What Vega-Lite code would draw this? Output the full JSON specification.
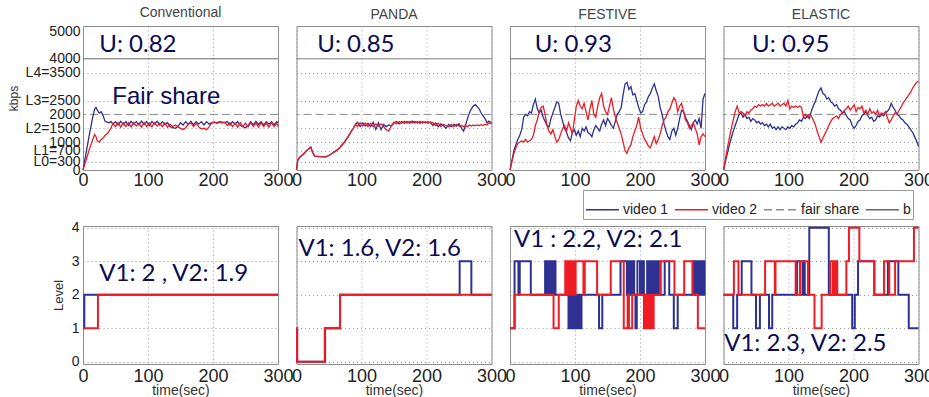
{
"$schema": "https://vega.github.io/schema/vega-lite/v6.json",
"padding": {"left": 6, "top": 5, "right": 0, "bottom": 0},
"background": "white",
"spacing": 30,
"bounds": "full",
"config": {
  "font": "Liberation Sans",
  "view": {"stroke": "#8c8c8c", "strokeWidth": 1},
  "axis": {"domain": false, "ticks": false, "grid": true, "gridColor": "#9a9a9a", "gridDash": [1, 3], "gridWidth": 1, "labelColor": "#222222", "titleColor": "#333333", "titleFontWeight": "normal", "labelFont": "Liberation Sans", "titleFont": "Liberation Sans", "labelFlush": false, "labelOverlap": false, "labelBound": false},
  "title": {"fontSize": 14, "font": "Liberation Sans", "fontWeight": "normal", "color": "#444444", "offset": 4},
  "legend": {"orient": "none", "legendX": 500, "legendY": 164, "direction": "horizontal", "symbolType": "stroke", "symbolSize": 1089, "symbolStrokeWidth": 1.5, "labelFontSize": 14, "labelColor": "#222222", "labelFont": "Liberation Sans", "strokeColor": "#999999", "fillColor": "#ffffff", "padding": 2, "columnPadding": 3, "labelOffset": 3}
},
"datasets": {
  "refs": [{"series": "fair share", "kbps": 2000}, {"series": "b", "kbps": 4000}],
  "kbps": [
{"p":"C","t":0,"video 1":0,"video 2":0},{"p":"C","t":5,"video 1":650,"video 2":380},{"p":"C","t":10,"video 1":1300,"video 2":760},{"p":"C","t":15,"video 1":1900,"video 2":1100},{"p":"C","t":18,"video 1":2200,"video 2":1280},{"p":"C","t":20,"video 1":2250,"video 2":1200},{"p":"C","t":22,"video 1":2150,"video 2":1050},{"p":"C","t":25,"video 1":2050,"video 2":1000},{"p":"C","t":28,"video 1":2100,"video 2":1100},{"p":"C","t":31,"video 1":1950,"video 2":1150},{"p":"C","t":34,"video 1":1750,"video 2":1250},{"p":"C","t":37,"video 1":1720,"video 2":1300},{"p":"C","t":40,"video 1":1700,"video 2":1400},{"p":"C","t":43,"video 1":1750,"video 2":1500},{"p":"C","t":46,"video 1":1650,"video 2":1680},
{"p":"C","t":50,"video 1":1740,"video 2":1560},{"p":"C","t":54,"video 1":1620,"video 2":1700},{"p":"C","t":58,"video 1":1750,"video 2":1540},{"p":"C","t":62,"video 1":1640,"video 2":1690},{"p":"C","t":66,"video 1":1740,"video 2":1560},{"p":"C","t":70,"video 1":1600,"video 2":1710},{"p":"C","t":74,"video 1":1750,"video 2":1550},{"p":"C","t":78,"video 1":1650,"video 2":1700},{"p":"C","t":82,"video 1":1740,"video 2":1580},{"p":"C","t":86,"video 1":1620,"video 2":1690},{"p":"C","t":90,"video 1":1760,"video 2":1540},{"p":"C","t":94,"video 1":1640,"video 2":1700},{"p":"C","t":98,"video 1":1740,"video 2":1560},{"p":"C","t":102,"video 1":1600,"video 2":1690},{"p":"C","t":106,"video 1":1740,"video 2":1550},{"p":"C","t":110,"video 1":1650,"video 2":1700},{"p":"C","t":114,"video 1":1750,"video 2":1580},{"p":"C","t":118,"video 1":1620,"video 2":1680},{"p":"C","t":122,"video 1":1740,"video 2":1560},{"p":"C","t":126,"video 1":1640,"video 2":1690},{"p":"C","t":130,"video 1":1700,"video 2":1540},{"p":"C","t":134,"video 1":1560,"video 2":1650},{"p":"C","t":138,"video 1":1520,"video 2":1560},{"p":"C","t":142,"video 1":1500,"video 2":1620},{"p":"C","t":146,"video 1":1560,"video 2":1560},{"p":"C","t":150,"video 1":1700,"video 2":1500},{"p":"C","t":154,"video 1":1620,"video 2":1460},{"p":"C","t":158,"video 1":1740,"video 2":1520},{"p":"C","t":162,"video 1":1640,"video 2":1650},{"p":"C","t":166,"video 1":1750,"video 2":1700},{"p":"C","t":170,"video 1":1620,"video 2":1560},{"p":"C","t":174,"video 1":1740,"video 2":1690},{"p":"C","t":178,"video 1":1650,"video 2":1550},{"p":"C","t":182,"video 1":1740,"video 2":1480},{"p":"C","t":186,"video 1":1620,"video 2":1500},{"p":"C","t":190,"video 1":1740,"video 2":1450},{"p":"C","t":194,"video 1":1650,"video 2":1550},{"p":"C","t":198,"video 1":1700,"video 2":1700},{"p":"C","t":202,"video 1":1720,"video 2":1720},{"p":"C","t":206,"video 1":1700,"video 2":1680},{"p":"C","t":210,"video 1":1740,"video 2":1720},{"p":"C","t":214,"video 1":1720,"video 2":1690},{"p":"C","t":218,"video 1":1700,"video 2":1720},{"p":"C","t":222,"video 1":1740,"video 2":1600},{"p":"C","t":226,"video 1":1620,"video 2":1700},{"p":"C","t":230,"video 1":1740,"video 2":1560},{"p":"C","t":234,"video 1":1650,"video 2":1690},{"p":"C","t":238,"video 1":1740,"video 2":1540},{"p":"C","t":242,"video 1":1600,"video 2":1700},{"p":"C","t":246,"video 1":1560,"video 2":1560},{"p":"C","t":250,"video 1":1520,"video 2":1690},{"p":"C","t":254,"video 1":1600,"video 2":1550},{"p":"C","t":258,"video 1":1740,"video 2":1700},{"p":"C","t":262,"video 1":1620,"video 2":1560},{"p":"C","t":266,"video 1":1750,"video 2":1690},{"p":"C","t":270,"video 1":1640,"video 2":1540},{"p":"C","t":274,"video 1":1740,"video 2":1700},{"p":"C","t":278,"video 1":1620,"video 2":1560},{"p":"C","t":282,"video 1":1740,"video 2":1690},{"p":"C","t":286,"video 1":1650,"video 2":1540},{"p":"C","t":290,"video 1":1740,"video 2":1700},{"p":"C","t":294,"video 1":1620,"video 2":1560},{"p":"C","t":298,"video 1":1740,"video 2":1690},{"p":"C","t":300,"video 1":1700,"video 2":1560},
{"p":"P","t":0,"video 1":0,"video 2":0},{"p":"P","t":2,"video 1":350,"video 2":350},{"p":"P","t":5,"video 1":460,"video 2":460},{"p":"P","t":10,"video 1":560,"video 2":560},{"p":"P","t":15,"video 1":680,"video 2":680},{"p":"P","t":20,"video 1":780,"video 2":780},{"p":"P","t":22,"video 1":820,"video 2":820},{"p":"P","t":25,"video 1":620,"video 2":620},{"p":"P","t":28,"video 1":500,"video 2":500},{"p":"P","t":35,"video 1":480,"video 2":480},{"p":"P","t":45,"video 1":470,"video 2":470},{"p":"P","t":50,"video 1":520,"video 2":520},{"p":"P","t":55,"video 1":600,"video 2":600},{"p":"P","t":60,"video 1":680,"video 2":680},{"p":"P","t":65,"video 1":760,"video 2":760},{"p":"P","t":70,"video 1":900,"video 2":900},{"p":"P","t":73,"video 1":980,"video 2":980},{"p":"P","t":76,"video 1":1080,"video 2":1080},{"p":"P","t":80,"video 1":1220,"video 2":1220},{"p":"P","t":84,"video 1":1380,"video 2":1380},{"p":"P","t":88,"video 1":1520,"video 2":1520},{"p":"P","t":91,"video 1":1650,"video 2":1650},{"p":"P","t":94,"video 1":1720,"video 2":1560},
{"p":"P","t":98,"video 1":1560,"video 2":1700},{"p":"P","t":102,"video 1":1700,"video 2":1580},{"p":"P","t":106,"video 1":1580,"video 2":1690},{"p":"P","t":110,"video 1":1680,"video 2":1560},{"p":"P","t":114,"video 1":1560,"video 2":1680},{"p":"P","t":118,"video 1":1720,"video 2":1560},{"p":"P","t":122,"video 1":1460,"video 2":1660},{"p":"P","t":126,"video 1":1700,"video 2":1580},{"p":"P","t":130,"video 1":1450,"video 2":1660},{"p":"P","t":134,"video 1":1640,"video 2":1560},{"p":"P","t":138,"video 1":1560,"video 2":1450},{"p":"P","t":142,"video 1":1620,"video 2":1400},{"p":"P","t":146,"video 1":1580,"video 2":1600},{"p":"P","t":150,"video 1":1700,"video 2":1720},{"p":"P","t":154,"video 1":1740,"video 2":1660},{"p":"P","t":158,"video 1":1660,"video 2":1740},{"p":"P","t":162,"video 1":1740,"video 2":1680},{"p":"P","t":166,"video 1":1680,"video 2":1750},{"p":"P","t":170,"video 1":1740,"video 2":1680},{"p":"P","t":174,"video 1":1680,"video 2":1750},{"p":"P","t":178,"video 1":1760,"video 2":1690},{"p":"P","t":182,"video 1":1690,"video 2":1750},{"p":"P","t":186,"video 1":1740,"video 2":1680},{"p":"P","t":190,"video 1":1680,"video 2":1750},{"p":"P","t":194,"video 1":1740,"video 2":1690},{"p":"P","t":198,"video 1":1700,"video 2":1740},{"p":"P","t":202,"video 1":1740,"video 2":1680},{"p":"P","t":206,"video 1":1700,"video 2":1730},{"p":"P","t":210,"video 1":1600,"video 2":1700},{"p":"P","t":214,"video 1":1690,"video 2":1600},{"p":"P","t":218,"video 1":1560,"video 2":1680},{"p":"P","t":222,"video 1":1660,"video 2":1560},{"p":"P","t":226,"video 1":1600,"video 2":1640},{"p":"P","t":230,"video 1":1500,"video 2":1600},{"p":"P","t":234,"video 1":1640,"video 2":1560},{"p":"P","t":238,"video 1":1560,"video 2":1640},{"p":"P","t":242,"video 1":1640,"video 2":1560},{"p":"P","t":246,"video 1":1580,"video 2":1640},{"p":"P","t":250,"video 1":1660,"video 2":1580},{"p":"P","t":254,"video 1":1500,"video 2":1600},{"p":"P","t":257,"video 1":1400,"video 2":1560},{"p":"P","t":260,"video 1":1600,"video 2":1600},{"p":"P","t":263,"video 1":1850,"video 2":1560},{"p":"P","t":266,"video 1":2050,"video 2":1620},{"p":"P","t":269,"video 1":2200,"video 2":1580},{"p":"P","t":272,"video 1":2300,"video 2":1620},{"p":"P","t":275,"video 1":2350,"video 2":1590},{"p":"P","t":278,"video 1":2280,"video 2":1620},{"p":"P","t":281,"video 1":2200,"video 2":1600},{"p":"P","t":284,"video 1":2050,"video 2":1630},{"p":"P","t":287,"video 1":1950,"video 2":1600},{"p":"P","t":290,"video 1":1850,"video 2":1650},{"p":"P","t":293,"video 1":1700,"video 2":1620},{"p":"P","t":296,"video 1":1760,"video 2":1700},{"p":"P","t":300,"video 1":1700,"video 2":1650},
{"p":"F","t":0,"video 1":0,"video 2":0},{"p":"F","t":3,"video 1":350,"video 2":300},{"p":"F","t":6,"video 1":700,"video 2":600},{"p":"F","t":9,"video 1":900,"video 2":800},{"p":"F","t":12,"video 1":1100,"video 2":950},{"p":"F","t":15,"video 1":1250,"video 2":1000},{"p":"F","t":18,"video 1":1450,"video 2":1050},{"p":"F","t":21,"video 1":1900,"video 2":1000},{"p":"F","t":24,"video 1":2000,"video 2":1100},{"p":"F","t":27,"video 1":1950,"video 2":1000},{"p":"F","t":30,"video 1":2100,"video 2":1050},{"p":"F","t":33,"video 1":2050,"video 2":1100},{"p":"F","t":36,"video 1":2350,"video 2":1250},{"p":"F","t":39,"video 1":2550,"video 2":1600},{"p":"F","t":42,"video 1":2200,"video 2":1800},{"p":"F","t":45,"video 1":2050,"video 2":2100},{"p":"F","t":48,"video 1":2150,"video 2":2250},{"p":"F","t":51,"video 1":1900,"video 2":2300},{"p":"F","t":54,"video 1":1750,"video 2":2000},{"p":"F","t":57,"video 1":1600,"video 2":1600},{"p":"F","t":60,"video 1":1550,"video 2":1400},{"p":"F","t":63,"video 1":1850,"video 2":1300},{"p":"F","t":66,"video 1":2050,"video 2":1450},{"p":"F","t":69,"video 1":2250,"video 2":1200},{"p":"F","t":72,"video 1":2450,"video 2":1000},{"p":"F","t":75,"video 1":2400,"video 2":1100},{"p":"F","t":78,"video 1":2000,"video 2":1300},{"p":"F","t":81,"video 1":1750,"video 2":1500},{"p":"F","t":84,"video 1":1500,"video 2":1600},{"p":"F","t":87,"video 1":1350,"video 2":1400},{"p":"F","t":90,"video 1":1150,"video 2":1700},{"p":"F","t":93,"video 1":1050,"video 2":1500},{"p":"F","t":96,"video 1":1350,"video 2":1300},{"p":"F","t":99,"video 1":1450,"video 2":1800},{"p":"F","t":102,"video 1":1250,"video 2":2300},{"p":"F","t":105,"video 1":1400,"video 2":2500},{"p":"F","t":108,"video 1":1200,"video 2":2300},{"p":"F","t":111,"video 1":1500,"video 2":2200},{"p":"F","t":114,"video 1":1400,"video 2":2400},{"p":"F","t":117,"video 1":1550,"video 2":2100},{"p":"F","t":120,"video 1":1350,"video 2":1800},{"p":"F","t":123,"video 1":1300,"video 2":2200},{"p":"F","t":126,"video 1":1200,"video 2":2500},{"p":"F","t":129,"video 1":1450,"video 2":2000},{"p":"F","t":132,"video 1":1600,"video 2":1900},{"p":"F","t":135,"video 1":1500,"video 2":2300},{"p":"F","t":138,"video 1":1400,"video 2":2600},{"p":"F","t":141,"video 1":1650,"video 2":2750},{"p":"F","t":144,"video 1":1800,"video 2":2300},{"p":"F","t":147,"video 1":1600,"video 2":2100},{"p":"F","t":150,"video 1":1850,"video 2":2000},{"p":"F","t":153,"video 1":1750,"video 2":2300},{"p":"F","t":156,"video 1":1600,"video 2":2600},{"p":"F","t":159,"video 1":1500,"video 2":2200},{"p":"F","t":162,"video 1":1750,"video 2":1900},{"p":"F","t":165,"video 1":2000,"video 2":1700},{"p":"F","t":168,"video 1":2100,"video 2":1500},{"p":"F","t":171,"video 1":2250,"video 2":1300},{"p":"F","t":174,"video 1":2700,"video 2":1000},{"p":"F","t":177,"video 1":3100,"video 2":700},{"p":"F","t":180,"video 1":3150,"video 2":600},{"p":"F","t":183,"video 1":2900,"video 2":800},{"p":"F","t":186,"video 1":3000,"video 2":900},{"p":"F","t":189,"video 1":2700,"video 2":1200},{"p":"F","t":192,"video 1":2750,"video 2":1400},{"p":"F","t":195,"video 1":2500,"video 2":1600},{"p":"F","t":198,"video 1":2250,"video 2":1900},{"p":"F","t":201,"video 1":2050,"video 2":1500},{"p":"F","t":204,"video 1":2100,"video 2":1300},{"p":"F","t":207,"video 1":2350,"video 2":1100},{"p":"F","t":210,"video 1":2450,"video 2":1000},{"p":"F","t":213,"video 1":2650,"video 2":850},{"p":"F","t":216,"video 1":2750,"video 2":800},{"p":"F","t":219,"video 1":2950,"video 2":1000},{"p":"F","t":222,"video 1":3100,"video 2":1200},{"p":"F","t":225,"video 1":2850,"video 2":950},{"p":"F","t":228,"video 1":2650,"video 2":1100},{"p":"F","t":231,"video 1":2250,"video 2":1300},{"p":"F","t":234,"video 1":2000,"video 2":1600},{"p":"F","t":237,"video 1":1650,"video 2":1800},{"p":"F","t":240,"video 1":1400,"video 2":1900},{"p":"F","t":243,"video 1":1200,"video 2":2100},{"p":"F","t":246,"video 1":1100,"video 2":2200},{"p":"F","t":249,"video 1":1400,"video 2":2400},{"p":"F","t":252,"video 1":1500,"video 2":2600},{"p":"F","t":255,"video 1":1250,"video 2":2500},{"p":"F","t":258,"video 1":1500,"video 2":2100},{"p":"F","t":261,"video 1":1850,"video 2":2300},{"p":"F","t":264,"video 1":2150,"video 2":2400},{"p":"F","t":267,"video 1":2100,"video 2":2100},{"p":"F","t":270,"video 1":1900,"video 2":1800},{"p":"F","t":273,"video 1":1750,"video 2":1700},{"p":"F","t":276,"video 1":1600,"video 2":1500},{"p":"F","t":279,"video 1":1450,"video 2":1600},{"p":"F","t":282,"video 1":1700,"video 2":1700},{"p":"F","t":285,"video 1":1800,"video 2":1500},{"p":"F","t":288,"video 1":1650,"video 2":1300},{"p":"F","t":291,"video 1":1850,"video 2":900},{"p":"F","t":294,"video 1":1500,"video 2":1200},{"p":"F","t":297,"video 1":2550,"video 2":1300},{"p":"F","t":300,"video 1":2750,"video 2":1200},
{"p":"E","t":0,"video 1":0,"video 2":0},{"p":"E","t":3,"video 1":300,"video 2":400},{"p":"E","t":6,"video 1":600,"video 2":800},{"p":"E","t":9,"video 1":900,"video 2":1150},{"p":"E","t":12,"video 1":1150,"video 2":1500},{"p":"E","t":15,"video 1":1400,"video 2":1800},{"p":"E","t":18,"video 1":1600,"video 2":2100},{"p":"E","t":21,"video 1":1800,"video 2":2300},{"p":"E","t":24,"video 1":2000,"video 2":2050},{"p":"E","t":27,"video 1":2050,"video 2":2100},{"p":"E","t":30,"video 1":1900,"video 2":2050},{"p":"E","t":33,"video 1":2000,"video 2":1950},{"p":"E","t":36,"video 1":1850,"video 2":2100},{"p":"E","t":39,"video 1":1900,"video 2":2050},{"p":"E","t":42,"video 1":1750,"video 2":2150},{"p":"E","t":45,"video 1":1850,"video 2":2200},{"p":"E","t":48,"video 1":1800,"video 2":2300},{"p":"E","t":51,"video 1":1700,"video 2":2250},{"p":"E","t":54,"video 1":1750,"video 2":2350},{"p":"E","t":57,"video 1":1650,"video 2":2300},{"p":"E","t":60,"video 1":1700,"video 2":2350},{"p":"E","t":63,"video 1":1600,"video 2":2300},{"p":"E","t":66,"video 1":1650,"video 2":2400},{"p":"E","t":69,"video 1":1550,"video 2":2300},{"p":"E","t":72,"video 1":1650,"video 2":2350},{"p":"E","t":75,"video 1":1500,"video 2":2400},{"p":"E","t":78,"video 1":1550,"video 2":2300},{"p":"E","t":81,"video 1":1450,"video 2":2350},{"p":"E","t":84,"video 1":1550,"video 2":2400},{"p":"E","t":87,"video 1":1450,"video 2":2300},{"p":"E","t":90,"video 1":1550,"video 2":2350},{"p":"E","t":93,"video 1":1500,"video 2":2400},{"p":"E","t":96,"video 1":1450,"video 2":2300},{"p":"E","t":99,"video 1":1550,"video 2":2500},{"p":"E","t":102,"video 1":1500,"video 2":2200},{"p":"E","t":105,"video 1":1600,"video 2":2300},{"p":"E","t":108,"video 1":1550,"video 2":2250},{"p":"E","t":111,"video 1":1650,"video 2":2300},{"p":"E","t":114,"video 1":1700,"video 2":2250},{"p":"E","t":117,"video 1":1800,"video 2":2300},{"p":"E","t":120,"video 1":1750,"video 2":2250},{"p":"E","t":123,"video 1":1900,"video 2":1900},{"p":"E","t":126,"video 1":1850,"video 2":2000},{"p":"E","t":129,"video 1":1950,"video 2":1900},{"p":"E","t":132,"video 1":1850,"video 2":2000},{"p":"E","t":135,"video 1":2100,"video 2":1950},{"p":"E","t":138,"video 1":2300,"video 2":1800},{"p":"E","t":141,"video 1":2450,"video 2":1650},{"p":"E","t":144,"video 1":2650,"video 2":1400},{"p":"E","t":147,"video 1":2850,"video 2":1200},{"p":"E","t":150,"video 1":2950,"video 2":1000},{"p":"E","t":153,"video 1":2750,"video 2":1150},{"p":"E","t":156,"video 1":2700,"video 2":1300},{"p":"E","t":159,"video 1":2550,"video 2":1450},{"p":"E","t":162,"video 1":2600,"video 2":1600},{"p":"E","t":165,"video 1":2450,"video 2":1750},{"p":"E","t":168,"video 1":2400,"video 2":1850},{"p":"E","t":171,"video 1":2300,"video 2":1900},{"p":"E","t":174,"video 1":2350,"video 2":1950},{"p":"E","t":177,"video 1":2200,"video 2":1850},{"p":"E","t":180,"video 1":2150,"video 2":2000},{"p":"E","t":183,"video 1":2050,"video 2":2050},{"p":"E","t":186,"video 1":2100,"video 2":2150},{"p":"E","t":189,"video 1":1950,"video 2":2200},{"p":"E","t":192,"video 1":1850,"video 2":2300},{"p":"E","t":195,"video 1":1800,"video 2":2150},{"p":"E","t":198,"video 1":1600,"video 2":2250},{"p":"E","t":201,"video 1":1500,"video 2":2350},{"p":"E","t":204,"video 1":1600,"video 2":2100},{"p":"E","t":207,"video 1":1750,"video 2":2250},{"p":"E","t":210,"video 1":1800,"video 2":2200},{"p":"E","t":213,"video 1":1950,"video 2":2300},{"p":"E","t":216,"video 1":2000,"video 2":2050},{"p":"E","t":219,"video 1":2100,"video 2":2150},{"p":"E","t":222,"video 1":1950,"video 2":2000},{"p":"E","t":225,"video 1":1850,"video 2":2200},{"p":"E","t":228,"video 1":1900,"video 2":2050},{"p":"E","t":231,"video 1":1750,"video 2":2100},{"p":"E","t":234,"video 1":1800,"video 2":2000},{"p":"E","t":237,"video 1":1950,"video 2":2150},{"p":"E","t":240,"video 1":1900,"video 2":1950},{"p":"E","t":243,"video 1":2000,"video 2":2050},{"p":"E","t":246,"video 1":1950,"video 2":2000},{"p":"E","t":249,"video 1":2050,"video 2":2100},{"p":"E","t":252,"video 1":2100,"video 2":1900},{"p":"E","t":255,"video 1":2200,"video 2":1700},{"p":"E","t":258,"video 1":2400,"video 2":1800},{"p":"E","t":261,"video 1":2250,"video 2":1950},{"p":"E","t":264,"video 1":2150,"video 2":2050},{"p":"E","t":267,"video 1":2000,"video 2":2000},{"p":"E","t":270,"video 1":1950,"video 2":2150},{"p":"E","t":273,"video 1":1850,"video 2":2250},{"p":"E","t":276,"video 1":1800,"video 2":2400},{"p":"E","t":279,"video 1":1700,"video 2":2500},{"p":"E","t":282,"video 1":1650,"video 2":2600},{"p":"E","t":285,"video 1":1550,"video 2":2700},{"p":"E","t":288,"video 1":1450,"video 2":2800},{"p":"E","t":291,"video 1":1350,"video 2":2950},{"p":"E","t":294,"video 1":1200,"video 2":3050},{"p":"E","t":297,"video 1":1050,"video 2":3150},{"p":"E","t":300,"video 1":850,"video 2":3200}
  ],
  "lv": [
{"p":"C","series":"video 1","t":0,"l":1},{"p":"C","series":"video 1","t":2,"l":2},{"p":"C","series":"video 1","t":300,"l":2},
{"p":"C","series":"video 2","t":0,"l":1},{"p":"C","series":"video 2","t":23,"l":2},{"p":"C","series":"video 2","t":300,"l":2},
{"p":"P","series":"video 1","t":0,"l":1},{"p":"P","series":"video 1","t":1,"l":0},{"p":"P","series":"video 1","t":44,"l":1},{"p":"P","series":"video 1","t":67,"l":2},{"p":"P","series":"video 1","t":251,"l":3},{"p":"P","series":"video 1","t":269,"l":2},{"p":"P","series":"video 1","t":300,"l":2},
{"p":"P","series":"video 2","t":0,"l":1},{"p":"P","series":"video 2","t":1,"l":0},{"p":"P","series":"video 2","t":43.5,"l":1},{"p":"P","series":"video 2","t":67,"l":2},{"p":"P","series":"video 2","t":300,"l":2},
{"p":"F","series":"video 1","t":0,"l":1},{"p":"F","series":"video 1","t":7,"l":3},{"p":"F","series":"video 1","t":13,"l":2},{"p":"F","series":"video 1","t":15,"l":3},{"p":"F","series":"video 1","t":32,"l":2},{"p":"F","series":"video 1","t":54,"l":3},{"p":"F","series":"video 1","t":55,"l":2},{"p":"F","series":"video 1","t":56,"l":3},{"p":"F","series":"video 1","t":57,"l":2},{"p":"F","series":"video 1","t":58,"l":3},{"p":"F","series":"video 1","t":59,"l":2},{"p":"F","series":"video 1","t":60,"l":3},{"p":"F","series":"video 1","t":61,"l":2},{"p":"F","series":"video 1","t":62,"l":3},{"p":"F","series":"video 1","t":63,"l":2},{"p":"F","series":"video 1","t":64,"l":3},{"p":"F","series":"video 1","t":65,"l":2},{"p":"F","series":"video 1","t":66,"l":3},{"p":"F","series":"video 1","t":67,"l":2},{"p":"F","series":"video 1","t":68,"l":3},{"p":"F","series":"video 1","t":70,"l":2},{"p":"F","series":"video 1","t":90,"l":1},{"p":"F","series":"video 1","t":91,"l":2},{"p":"F","series":"video 1","t":92,"l":1},{"p":"F","series":"video 1","t":93,"l":2},{"p":"F","series":"video 1","t":94,"l":1},{"p":"F","series":"video 1","t":95,"l":2},{"p":"F","series":"video 1","t":96,"l":1},{"p":"F","series":"video 1","t":97,"l":2},{"p":"F","series":"video 1","t":98,"l":1},{"p":"F","series":"video 1","t":99,"l":2},{"p":"F","series":"video 1","t":100,"l":1},{"p":"F","series":"video 1","t":101,"l":2},{"p":"F","series":"video 1","t":104,"l":1},{"p":"F","series":"video 1","t":106,"l":2},{"p":"F","series":"video 1","t":109,"l":1},{"p":"F","series":"video 1","t":110,"l":2},{"p":"F","series":"video 1","t":137,"l":1},{"p":"F","series":"video 1","t":142,"l":2},{"p":"F","series":"video 1","t":170,"l":3},{"p":"F","series":"video 1","t":180,"l":2},{"p":"F","series":"video 1","t":181,"l":3},{"p":"F","series":"video 1","t":182,"l":2},{"p":"F","series":"video 1","t":183,"l":3},{"p":"F","series":"video 1","t":184,"l":2},{"p":"F","series":"video 1","t":185,"l":3},{"p":"F","series":"video 1","t":186,"l":2},{"p":"F","series":"video 1","t":187,"l":3},{"p":"F","series":"video 1","t":188,"l":2},{"p":"F","series":"video 1","t":189,"l":3},{"p":"F","series":"video 1","t":191,"l":2},{"p":"F","series":"video 1","t":193,"l":1},{"p":"F","series":"video 1","t":195,"l":2},{"p":"F","series":"video 1","t":196,"l":3},{"p":"F","series":"video 1","t":200,"l":2},{"p":"F","series":"video 1","t":203,"l":3},{"p":"F","series":"video 1","t":206,"l":2},{"p":"F","series":"video 1","t":211,"l":3},{"p":"F","series":"video 1","t":212,"l":2},{"p":"F","series":"video 1","t":213,"l":3},{"p":"F","series":"video 1","t":214,"l":2},{"p":"F","series":"video 1","t":215,"l":3},{"p":"F","series":"video 1","t":216,"l":2},{"p":"F","series":"video 1","t":217,"l":3},{"p":"F","series":"video 1","t":218,"l":2},{"p":"F","series":"video 1","t":219,"l":3},{"p":"F","series":"video 1","t":221,"l":2},{"p":"F","series":"video 1","t":223,"l":3},{"p":"F","series":"video 1","t":225,"l":2},{"p":"F","series":"video 1","t":227,"l":3},{"p":"F","series":"video 1","t":229,"l":2},{"p":"F","series":"video 1","t":238,"l":3},{"p":"F","series":"video 1","t":245,"l":2},{"p":"F","series":"video 1","t":252,"l":1},{"p":"F","series":"video 1","t":258,"l":2},{"p":"F","series":"video 1","t":281,"l":3},{"p":"F","series":"video 1","t":282,"l":2},{"p":"F","series":"video 1","t":283,"l":3},{"p":"F","series":"video 1","t":284,"l":2},{"p":"F","series":"video 1","t":285,"l":3},{"p":"F","series":"video 1","t":286,"l":2},{"p":"F","series":"video 1","t":287,"l":3},{"p":"F","series":"video 1","t":288,"l":2},{"p":"F","series":"video 1","t":289,"l":3},{"p":"F","series":"video 1","t":290,"l":2},{"p":"F","series":"video 1","t":291,"l":3},{"p":"F","series":"video 1","t":292,"l":2},{"p":"F","series":"video 1","t":293,"l":3},{"p":"F","series":"video 1","t":294,"l":2},{"p":"F","series":"video 1","t":295,"l":3},{"p":"F","series":"video 1","t":296,"l":2},{"p":"F","series":"video 1","t":297,"l":3},{"p":"F","series":"video 1","t":298,"l":2},{"p":"F","series":"video 1","t":299,"l":3},{"p":"F","series":"video 1","t":300,"l":3},
{"p":"F","series":"video 2","t":0,"l":1},{"p":"F","series":"video 2","t":7,"l":2},{"p":"F","series":"video 2","t":67,"l":1},{"p":"F","series":"video 2","t":75,"l":2},{"p":"F","series":"video 2","t":85,"l":3},{"p":"F","series":"video 2","t":86,"l":2},{"p":"F","series":"video 2","t":87,"l":3},{"p":"F","series":"video 2","t":88,"l":2},{"p":"F","series":"video 2","t":89,"l":3},{"p":"F","series":"video 2","t":90,"l":2},{"p":"F","series":"video 2","t":91,"l":3},{"p":"F","series":"video 2","t":92,"l":2},{"p":"F","series":"video 2","t":93,"l":3},{"p":"F","series":"video 2","t":94,"l":2},{"p":"F","series":"video 2","t":95,"l":3},{"p":"F","series":"video 2","t":96,"l":2},{"p":"F","series":"video 2","t":97,"l":3},{"p":"F","series":"video 2","t":98,"l":2},{"p":"F","series":"video 2","t":99,"l":3},{"p":"F","series":"video 2","t":100,"l":2},{"p":"F","series":"video 2","t":101,"l":3},{"p":"F","series":"video 2","t":113,"l":2},{"p":"F","series":"video 2","t":115,"l":3},{"p":"F","series":"video 2","t":134,"l":2},{"p":"F","series":"video 2","t":155,"l":3},{"p":"F","series":"video 2","t":175,"l":1},{"p":"F","series":"video 2","t":181,"l":2},{"p":"F","series":"video 2","t":183,"l":1},{"p":"F","series":"video 2","t":188,"l":2},{"p":"F","series":"video 2","t":206,"l":1},{"p":"F","series":"video 2","t":207,"l":2},{"p":"F","series":"video 2","t":208,"l":1},{"p":"F","series":"video 2","t":209,"l":2},{"p":"F","series":"video 2","t":210,"l":1},{"p":"F","series":"video 2","t":211,"l":2},{"p":"F","series":"video 2","t":212,"l":1},{"p":"F","series":"video 2","t":213,"l":2},{"p":"F","series":"video 2","t":214,"l":1},{"p":"F","series":"video 2","t":215,"l":2},{"p":"F","series":"video 2","t":216,"l":1},{"p":"F","series":"video 2","t":217,"l":2},{"p":"F","series":"video 2","t":218,"l":1},{"p":"F","series":"video 2","t":219,"l":2},{"p":"F","series":"video 2","t":220,"l":1},{"p":"F","series":"video 2","t":221,"l":2},{"p":"F","series":"video 2","t":232,"l":3},{"p":"F","series":"video 2","t":253,"l":2},{"p":"F","series":"video 2","t":268,"l":3},{"p":"F","series":"video 2","t":281,"l":2},{"p":"F","series":"video 2","t":289,"l":1},{"p":"F","series":"video 2","t":300,"l":1},
{"p":"E","series":"video 1","t":0,"l":2},{"p":"E","series":"video 1","t":15,"l":1},{"p":"E","series":"video 1","t":21,"l":2},{"p":"E","series":"video 1","t":28,"l":3},{"p":"E","series":"video 1","t":43,"l":2},{"p":"E","series":"video 1","t":50,"l":1},{"p":"E","series":"video 1","t":56,"l":2},{"p":"E","series":"video 1","t":70,"l":1},{"p":"E","series":"video 1","t":75,"l":2},{"p":"E","series":"video 1","t":113,"l":3},{"p":"E","series":"video 1","t":118,"l":2},{"p":"E","series":"video 1","t":122,"l":3},{"p":"E","series":"video 1","t":125,"l":2},{"p":"E","series":"video 1","t":132,"l":4},{"p":"E","series":"video 1","t":162,"l":2},{"p":"E","series":"video 1","t":198,"l":1},{"p":"E","series":"video 1","t":202,"l":2},{"p":"E","series":"video 1","t":207,"l":3},{"p":"E","series":"video 1","t":232,"l":2},{"p":"E","series":"video 1","t":253,"l":3},{"p":"E","series":"video 1","t":269,"l":2},{"p":"E","series":"video 1","t":285,"l":1},{"p":"E","series":"video 1","t":300,"l":1},
{"p":"E","series":"video 2","t":0,"l":2},{"p":"E","series":"video 2","t":16,"l":3},{"p":"E","series":"video 2","t":23,"l":2},{"p":"E","series":"video 2","t":64,"l":3},{"p":"E","series":"video 2","t":79,"l":2},{"p":"E","series":"video 2","t":80,"l":3},{"p":"E","series":"video 2","t":111,"l":2},{"p":"E","series":"video 2","t":118,"l":3},{"p":"E","series":"video 2","t":130,"l":2},{"p":"E","series":"video 2","t":140,"l":1},{"p":"E","series":"video 2","t":151,"l":2},{"p":"E","series":"video 2","t":164,"l":3},{"p":"E","series":"video 2","t":168,"l":2},{"p":"E","series":"video 2","t":169,"l":3},{"p":"E","series":"video 2","t":171,"l":2},{"p":"E","series":"video 2","t":172,"l":3},{"p":"E","series":"video 2","t":175,"l":2},{"p":"E","series":"video 2","t":189,"l":3},{"p":"E","series":"video 2","t":193,"l":4},{"p":"E","series":"video 2","t":209,"l":3},{"p":"E","series":"video 2","t":232,"l":2},{"p":"E","series":"video 2","t":247,"l":3},{"p":"E","series":"video 2","t":255,"l":2},{"p":"E","series":"video 2","t":264,"l":3},{"p":"E","series":"video 2","t":293,"l":4},{"p":"E","series":"video 2","t":300,"l":4}
  ]
},
"vconcat": [
 {"hconcat": [
  {"title": "Conventional", "width": 195, "height": 144, "layer": [
   {"data": {"name": "refs"}, "mark": {"type": "rule", "strokeWidth": 1}, "encoding": {
     "y": {"field": "kbps", "type": "quantitative", "scale": {"domain": [0, 5180], "nice": false}, "axis": {"values": [0, 300, 700, 1000, 1500, 2000, 2500, 3500, 4000, 5000], "tickCount": 20, "format": "d", "labelExpr": "datum.value==300?'L0=300':datum.value==700?'L1=700':datum.value==1500?'L2=1500':datum.value==2500?'L3=2500':datum.value==3500?'L4=3500':datum.label", "labelFontSize": 14, "labelPadding": 3, "title": "kbps", "titleFontSize": 12, "titlePadding": 5, "gridOpacity": {"condition": {"test": "datum.value >= 4000 || datum.value == 2000", "value": 0}, "value": 1}}},
     "color": {"field": "series", "type": "nominal", "scale": {"domain": ["video 1", "video 2", "fair share", "b"], "range": ["#2e3192", "#ee1c25", "#8a8a8a", "#666666"]}, "legend": {"title": null}},
     "strokeDash": {"field": "series", "type": "nominal", "scale": {"domain": ["video 1", "video 2", "fair share", "b"], "range": [[1, 0], [1, 0], [8, 4], [1, 0]]}, "legend": {"title": null}}}},
   {"data": {"name": "kbps"}, "transform": [{"filter": "datum.p === 'C'"}, {"fold": ["video 1", "video 2"], "as": ["series", "kbps"]}], "mark": {"type": "line", "strokeWidth": 1.3}, "encoding": {
     "x": {"field": "t", "type": "quantitative", "scale": {"domain": [0, 300], "nice": false}, "axis": {"values": [0, 100, 200, 300], "labelFontSize": 18, "labelPadding": 1, "title": null}},
     "y": {"field": "kbps", "type": "quantitative"},
     "color": {"field": "series", "type": "nominal", "scale": {"domain": ["video 1", "video 2", "fair share", "b"], "range": ["#2e3192", "#ee1c25", "#8a8a8a", "#666666"]}, "legend": {"title": null}}}},
   {"data": {"values": [{}]}, "mark": {"type": "text", "text": "U: 0.82", "font": "Lato", "fontSize": 24, "color": "#0b0b55", "align": "left", "baseline": "middle"}, "encoding": {"x": {"datum": 25}, "y": {"datum": 4500}}},
   {"data": {"values": [{}]}, "mark": {"type": "text", "text": "Fair share", "font": "Liberation Sans", "fontSize": 24, "color": "#0b0b55", "align": "left", "baseline": "middle"}, "encoding": {"x": {"datum": 45}, "y": {"datum": 2620}}}
  ]},
  {"title": "PANDA", "width": 195, "height": 144, "layer": [
   {"data": {"name": "refs"}, "mark": {"type": "rule", "strokeWidth": 1}, "encoding": {
     "y": {"field": "kbps", "type": "quantitative", "scale": {"domain": [0, 5180], "nice": false}, "axis": {"values": [0, 300, 700, 1000, 1500, 2000, 2500, 3500, 4000, 5000], "tickCount": 20, "labels": false, "title": null, "gridOpacity": {"condition": {"test": "datum.value >= 4000 || datum.value == 2000", "value": 0}, "value": 1}}},
     "color": {"field": "series", "type": "nominal", "scale": {"domain": ["video 1", "video 2", "fair share", "b"], "range": ["#2e3192", "#ee1c25", "#8a8a8a", "#666666"]}, "legend": {"title": null}},
     "strokeDash": {"field": "series", "type": "nominal", "scale": {"domain": ["video 1", "video 2", "fair share", "b"], "range": [[1, 0], [1, 0], [8, 4], [1, 0]]}, "legend": {"title": null}}}},
   {"data": {"name": "kbps"}, "transform": [{"filter": "datum.p === 'P'"}, {"fold": ["video 1", "video 2"], "as": ["series", "kbps"]}], "mark": {"type": "line", "strokeWidth": 1.3}, "encoding": {
     "x": {"field": "t", "type": "quantitative", "scale": {"domain": [0, 300], "nice": false}, "axis": {"values": [0, 100, 200, 300], "labelFontSize": 18, "labelPadding": 1, "title": null}},
     "y": {"field": "kbps", "type": "quantitative"},
     "color": {"field": "series", "type": "nominal", "scale": {"domain": ["video 1", "video 2", "fair share", "b"], "range": ["#2e3192", "#ee1c25", "#8a8a8a", "#666666"]}, "legend": {"title": null}}}},
   {"data": {"values": [{}]}, "mark": {"type": "text", "text": "U: 0.85", "font": "Lato", "fontSize": 24, "color": "#0b0b55", "align": "left", "baseline": "middle"}, "encoding": {"x": {"datum": 32}, "y": {"datum": 4500}}}
  ]},
  {"title": "FESTIVE", "width": 195, "height": 144, "layer": [
   {"data": {"name": "refs"}, "mark": {"type": "rule", "strokeWidth": 1}, "encoding": {
     "y": {"field": "kbps", "type": "quantitative", "scale": {"domain": [0, 5180], "nice": false}, "axis": {"values": [0, 300, 700, 1000, 1500, 2000, 2500, 3500, 4000, 5000], "tickCount": 20, "labels": false, "title": null, "gridOpacity": {"condition": {"test": "datum.value >= 4000 || datum.value == 2000", "value": 0}, "value": 1}}},
     "color": {"field": "series", "type": "nominal", "scale": {"domain": ["video 1", "video 2", "fair share", "b"], "range": ["#2e3192", "#ee1c25", "#8a8a8a", "#666666"]}, "legend": {"title": null}},
     "strokeDash": {"field": "series", "type": "nominal", "scale": {"domain": ["video 1", "video 2", "fair share", "b"], "range": [[1, 0], [1, 0], [8, 4], [1, 0]]}, "legend": {"title": null}}}},
   {"data": {"name": "kbps"}, "transform": [{"filter": "datum.p === 'F'"}, {"fold": ["video 1", "video 2"], "as": ["series", "kbps"]}], "mark": {"type": "line", "strokeWidth": 1.3}, "encoding": {
     "x": {"field": "t", "type": "quantitative", "scale": {"domain": [0, 300], "nice": false}, "axis": {"values": [0, 100, 200, 300], "labelFontSize": 18, "labelPadding": 1, "title": null}},
     "y": {"field": "kbps", "type": "quantitative"},
     "color": {"field": "series", "type": "nominal", "scale": {"domain": ["video 1", "video 2", "fair share", "b"], "range": ["#2e3192", "#ee1c25", "#8a8a8a", "#666666"]}, "legend": {"title": null}}}},
   {"data": {"values": [{}]}, "mark": {"type": "text", "text": "U: 0.93", "font": "Lato", "fontSize": 24, "color": "#0b0b55", "align": "left", "baseline": "middle"}, "encoding": {"x": {"datum": 38}, "y": {"datum": 4500}}}
  ]},
  {"title": "ELASTIC", "width": 195, "height": 144, "layer": [
   {"data": {"name": "refs"}, "mark": {"type": "rule", "strokeWidth": 1}, "encoding": {
     "y": {"field": "kbps", "type": "quantitative", "scale": {"domain": [0, 5180], "nice": false}, "axis": {"values": [0, 300, 700, 1000, 1500, 2000, 2500, 3500, 4000, 5000], "tickCount": 20, "labels": false, "title": null, "gridOpacity": {"condition": {"test": "datum.value >= 4000 || datum.value == 2000", "value": 0}, "value": 1}}},
     "color": {"field": "series", "type": "nominal", "scale": {"domain": ["video 1", "video 2", "fair share", "b"], "range": ["#2e3192", "#ee1c25", "#8a8a8a", "#666666"]}, "legend": {"title": null}},
     "strokeDash": {"field": "series", "type": "nominal", "scale": {"domain": ["video 1", "video 2", "fair share", "b"], "range": [[1, 0], [1, 0], [8, 4], [1, 0]]}, "legend": {"title": null}}}},
   {"data": {"name": "kbps"}, "transform": [{"filter": "datum.p === 'E'"}, {"fold": ["video 1", "video 2"], "as": ["series", "kbps"]}], "mark": {"type": "line", "strokeWidth": 1.3}, "encoding": {
     "x": {"field": "t", "type": "quantitative", "scale": {"domain": [0, 300], "nice": false}, "axis": {"values": [0, 100, 200, 300], "labelFontSize": 18, "labelPadding": 1, "title": null}},
     "y": {"field": "kbps", "type": "quantitative"},
     "color": {"field": "series", "type": "nominal", "scale": {"domain": ["video 1", "video 2", "fair share", "b"], "range": ["#2e3192", "#ee1c25", "#8a8a8a", "#666666"]}, "legend": {"title": null}}}},
   {"data": {"values": [{}]}, "mark": {"type": "text", "text": "U: 0.95", "font": "Lato", "fontSize": 24, "color": "#0b0b55", "align": "left", "baseline": "middle"}, "encoding": {"x": {"datum": 44}, "y": {"datum": 4500}}}
  ]}
 ], "spacing": 18.5, "bounds": "flush"},
 {"hconcat": [
  {"width": 195, "height": 138, "layer": [
   {"data": {"name": "lv"}, "transform": [{"filter": "datum.p === 'C'"}], "mark": {"type": "line", "interpolate": "step-after", "strokeWidth": 2}, "encoding": {
     "x": {"field": "t", "type": "quantitative", "scale": {"domain": [0, 300], "nice": false}, "axis": {"values": [0, 100, 200, 300], "labelFontSize": 18, "labelPadding": 3, "title": "time(sec)", "titleFontSize": 14, "titlePadding": -2}},
     "y": {"field": "l", "type": "quantitative", "scale": {"domain": [-0.07, 4.05], "nice": false, "zero": false}, "axis": {"values": [0, 1, 2, 3, 4], "tickCount": 20, "format": "d", "labelFontSize": 14, "labelPadding": 4, "title": "Level", "titleFontSize": 13, "titlePadding": 6}},
     "color": {"field": "series", "type": "nominal", "scale": {"domain": ["video 1", "video 2", "fair share", "b"], "range": ["#2e3192", "#ee1c25", "#8a8a8a", "#666666"]}, "legend": {"title": null}}}},
   {"data": {"values": [{}]}, "mark": {"type": "text", "text": "V1: 2 , V2: 1.9", "font": "Lato", "fontSize": 24, "color": "#0b0b55", "align": "left", "baseline": "middle"}, "encoding": {"x": {"datum": 25}, "y": {"datum": 2.62}}}
  ]},
  {"width": 195, "height": 138, "layer": [
   {"data": {"name": "lv"}, "transform": [{"filter": "datum.p === 'P'"}], "mark": {"type": "line", "interpolate": "step-after", "strokeWidth": 2}, "encoding": {
     "x": {"field": "t", "type": "quantitative", "scale": {"domain": [0, 300], "nice": false}, "axis": {"values": [0, 100, 200, 300], "labelFontSize": 18, "labelPadding": 3, "title": "time(sec)", "titleFontSize": 14, "titlePadding": -2}},
     "y": {"field": "l", "type": "quantitative", "scale": {"domain": [-0.07, 4.05], "nice": false, "zero": false}, "axis": {"values": [0, 1, 2, 3, 4], "tickCount": 20, "labels": false, "title": null}},
     "color": {"field": "series", "type": "nominal", "scale": {"domain": ["video 1", "video 2", "fair share", "b"], "range": ["#2e3192", "#ee1c25", "#8a8a8a", "#666666"]}, "legend": {"title": null}}}},
   {"data": {"values": [{}]}, "mark": {"type": "text", "text": "V1: 1.6, V2: 1.6", "font": "Lato", "fontSize": 24, "color": "#0b0b55", "align": "left", "baseline": "middle"}, "encoding": {"x": {"datum": 3}, "y": {"datum": 3.35}}}
  ]},
  {"width": 195, "height": 138, "layer": [
   {"data": {"name": "lv"}, "transform": [{"filter": "datum.p === 'F'"}], "mark": {"type": "line", "interpolate": "step-after", "strokeWidth": 2}, "encoding": {
     "x": {"field": "t", "type": "quantitative", "scale": {"domain": [0, 300], "nice": false}, "axis": {"values": [0, 100, 200, 300], "labelFontSize": 18, "labelPadding": 3, "title": "time(sec)", "titleFontSize": 14, "titlePadding": -2}},
     "y": {"field": "l", "type": "quantitative", "scale": {"domain": [-0.07, 4.05], "nice": false, "zero": false}, "axis": {"values": [0, 1, 2, 3, 4], "tickCount": 20, "labels": false, "title": null}},
     "color": {"field": "series", "type": "nominal", "scale": {"domain": ["video 1", "video 2", "fair share", "b"], "range": ["#2e3192", "#ee1c25", "#8a8a8a", "#666666"]}, "legend": {"title": null}}}},
   {"data": {"values": [{}]}, "mark": {"type": "text", "text": "V1 : 2.2, V2: 2.1", "font": "Lato", "fontSize": 24, "color": "#0b0b55", "align": "left", "baseline": "middle"}, "encoding": {"x": {"datum": 6}, "y": {"datum": 3.62}}}
  ]},
  {"width": 195, "height": 138, "layer": [
   {"data": {"name": "lv"}, "transform": [{"filter": "datum.p === 'E'"}], "mark": {"type": "line", "interpolate": "step-after", "strokeWidth": 2}, "encoding": {
     "x": {"field": "t", "type": "quantitative", "scale": {"domain": [0, 300], "nice": false}, "axis": {"values": [0, 100, 200, 300], "labelFontSize": 18, "labelPadding": 3, "title": "time(sec)", "titleFontSize": 14, "titlePadding": -2}},
     "y": {"field": "l", "type": "quantitative", "scale": {"domain": [-0.07, 4.05], "nice": false, "zero": false}, "axis": {"values": [0, 1, 2, 3, 4], "tickCount": 20, "labels": false, "title": null}},
     "color": {"field": "series", "type": "nominal", "scale": {"domain": ["video 1", "video 2", "fair share", "b"], "range": ["#2e3192", "#ee1c25", "#8a8a8a", "#666666"]}, "legend": {"title": null}}}},
   {"data": {"values": [{}]}, "mark": {"type": "text", "text": "V1: 2.3, V2: 2.5", "font": "Lato", "fontSize": 24, "color": "#0b0b55", "align": "left", "baseline": "middle"}, "encoding": {"x": {"datum": 1}, "y": {"datum": 0.53}}}
  ]}
 ], "spacing": 18.5, "bounds": "flush"}
]
}
